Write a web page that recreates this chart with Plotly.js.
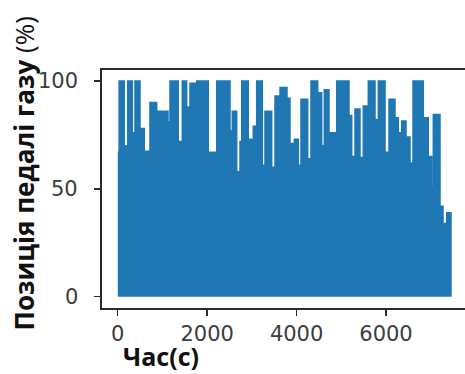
<!DOCTYPE html>
<html>
<head>
<meta charset="utf-8">
<script src="https://cdn.plot.ly/plotly-3.0.1.min.js"></script>
<style>
html,body{margin:0;padding:0;overflow:hidden;background:#fff;width:465px;height:374px;}
#chart{width:470px;height:374px;}
</style>
</head>
<body>
<div id="chart"></div>
<script>
// Time (s) at which each envelope level of the pedal signal begins
const timeSec = [0,30,145,221,324,385,497,593,720,870,1123,1168,1353,1443,1541,1615,1765,2025,2213,2510,2562,2660,2734,2772,2919,3031,3107,3233,3293,3443,3517,3629,3785,3852,3949,4038,4098,4248,4322,4472,4561,4620,4725,4897,5172,5233,5306,5418,5492,5604,5754,5828,5978,6067,6201,6275,6351,6447,6537,6604,6834,6946,7022,7058,7208,7275,7358,7470];
// Throttle pedal position (%) — upper envelope
const pedalPct = [67,100,70,100,76,100,78,67.5,90,86,81,100,72,100,88,99,100,67,100,77,86,58,72,100,73,79,100,61,86,60,93,97,92,71,73,61,91.5,64,100,94.6,70,96,76,100,84,65,87,64.5,88.4,100,82,100,67,91.5,83,76,81.5,74,62,100,83,65,51,84.5,42,34,39,39];
const xTicks = [0,2000,4000,6000];
const yTicks = [0,50,100];
const xTitle = '<b>Час(с)</b>';
const yTitle = '<b>Позиція педалі газу</b> (%)';

const blue = '#1f77b4';
const axisCol = '#2b2b2b';
const tickFont = {family: 'DejaVu Sans, sans-serif', size: 21, color: '#3c3c3c'};

const trace = {
  x: timeSec, y: pedalPct, type: 'scatter', mode: 'lines',
  line: {color: blue, width: 1.5, shape: 'hv'},
  fill: 'tozeroy', fillcolor: blue, hoverinfo: 'skip'
};

// y tick labels placed as text at each tick value
const yLabelAnns = yTicks.map(v => ({
  text: String(v), xref: 'paper', yref: 'y', x: -0.06, y: v,
  xanchor: 'right', yanchor: 'middle', showarrow: false, font: tickFont
}));

const layout = {
  width: 470, height: 374,
  margin: {l: 102, r: 2, t: 70, b: 66},
  paper_bgcolor: '#fff', plot_bgcolor: '#fff',
  showlegend: false,
  xaxis: {
    range: [-353, 7834], tickvals: xTicks, ticktext: xTicks.map(String),
    showline: true, mirror: true, linecolor: axisCol, linewidth: 1.6, automargin: false,
    ticks: 'outside', ticklen: 6, tickwidth: 1.4, tickcolor: axisCol,
    showgrid: false, zeroline: false, tickfont: tickFont
  },
  yaxis: {
    range: [-5.2, 105.1], tickvals: yTicks, showticklabels: false,
    showline: true, mirror: true, linecolor: axisCol, linewidth: 1.6, automargin: false,
    ticks: 'outside', ticklen: 6, tickwidth: 1.4, tickcolor: axisCol,
    showgrid: false, zeroline: false
  },
  annotations: yLabelAnns.concat([
    {text: yTitle, xref: 'paper', yref: 'paper', x: -0.212, y: 0.567,
     xanchor: 'center', yanchor: 'middle', textangle: -90, showarrow: false,
     font: {family: 'Open Sans, sans-serif', size: 26, color: '#111'}},
    {text: xTitle, xref: 'paper', yref: 'paper', x: 0.161, y: -0.2,
     xanchor: 'center', yanchor: 'middle', showarrow: false,
     font: {family: 'Open Sans, sans-serif', size: 25, color: '#111'}}
  ])
};

Plotly.newPlot('chart', [trace], layout, {staticPlot: true, displayModeBar: false});
</script>
</body>
</html>
